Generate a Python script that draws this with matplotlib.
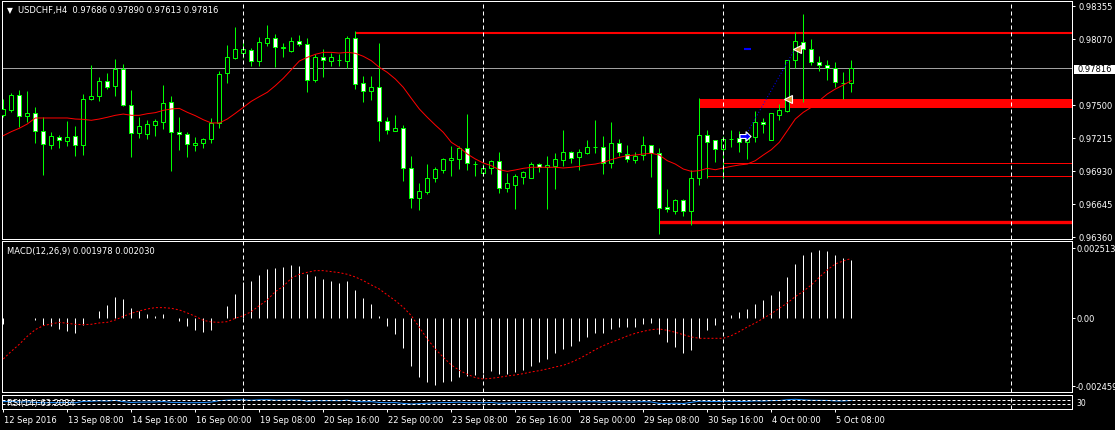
import matplotlib
matplotlib.use('Agg')
import matplotlib.pyplot as plt
from matplotlib.patches import Rectangle
from matplotlib.path import Path

plt.rcParams['font.family'] = ['DejaVu Sans']

# ---------------- data ----------------
opens = [
0.97416, 0.97459, 0.97586, 0.97407, 0.97427, 0.97272, 0.97156, 0.97220, 0.97191, 0.97231,
0.97156, 0.97548, 0.97574, 0.97704, 0.97666, 0.97810, 0.97496, 0.97254, 0.97251, 0.97329,
0.97355, 0.97522, 0.97263, 0.97246, 0.97156, 0.97168, 0.97202, 0.97344, 0.97773, 0.97905,
0.97946, 0.97977, 0.97882, 0.98038, 0.98075, 0.97989, 0.97969, 0.98049, 0.98023, 0.97712,
0.97911, 0.97882, 0.97886, 0.97882, 0.98075, 0.97686, 0.97623, 0.97652, 0.97364, 0.97277,
0.97298, 0.96958, 0.96693, 0.96750, 0.96871, 0.96940, 0.97027, 0.97035, 0.97125, 0.96990,
0.96915, 0.96952, 0.97012, 0.96785, 0.96811, 0.96880, 0.96871, 0.96987, 0.96961, 0.96975,
0.97027, 0.97090, 0.97053, 0.97087, 0.97133, 0.97133, 0.96995, 0.97168, 0.97079, 0.97027,
0.97064, 0.97151, 0.97082, 0.96615, 0.96586, 0.96675, 0.96580, 0.96866, 0.97237, 0.97194,
0.97122, 0.97202, 0.97211, 0.97177, 0.97220, 0.97349, 0.97200, 0.97416, 0.97450, 0.97885,
0.98041, 0.97980, 0.97868, 0.97842, 0.97816, 0.97690, 0.97686]
highs = [
0.97551, 0.97603, 0.97629, 0.97620, 0.97482, 0.97395, 0.97266, 0.97240, 0.97361, 0.97318,
0.97594, 0.97845, 0.97738, 0.97776, 0.97897, 0.97853, 0.97629, 0.97395, 0.97370, 0.97378,
0.97672, 0.97577, 0.97395, 0.97266, 0.97220, 0.97214, 0.97387, 0.97793, 0.98018, 0.98173,
0.98046, 0.97989, 0.98087, 0.98190, 0.98113, 0.98035, 0.98090, 0.98107, 0.98078, 0.97940,
0.97983, 0.97946, 0.97940, 0.98098, 0.98139, 0.97747, 0.97747, 0.98038, 0.97395, 0.97413,
0.97326, 0.97061, 0.96825, 0.96989, 0.96966, 0.97044, 0.97148, 0.97148, 0.97421, 0.97018,
0.96989, 0.97021, 0.97093, 0.96915, 0.96903, 0.96926, 0.97007, 0.96998, 0.97061, 0.97084,
0.97283, 0.97102, 0.97119, 0.97197, 0.97370, 0.97231, 0.97352, 0.97205, 0.97154, 0.97090,
0.97231, 0.97154, 0.97125, 0.96773, 0.96687, 0.96684, 0.96938, 0.97560, 0.97283, 0.97200,
0.97234, 0.97283, 0.97272, 0.97263, 0.97447, 0.97384, 0.97432, 0.97508, 0.97888, 0.98133,
0.98285, 0.98069, 0.97925, 0.97888, 0.97871, 0.97787, 0.97890]
lows = [
0.97393, 0.97442, 0.97306, 0.97349, 0.97171, 0.96897, 0.97122, 0.97130, 0.97145, 0.97061,
0.97070, 0.97545, 0.97531, 0.97637, 0.97580, 0.97493, 0.97053, 0.97217, 0.97208, 0.97234,
0.97292, 0.96932, 0.97113, 0.97053, 0.97105, 0.97130, 0.97171, 0.97300, 0.97692, 0.97897,
0.97902, 0.97839, 0.97839, 0.98009, 0.97827, 0.97914, 0.97954, 0.98006, 0.97614, 0.97695,
0.97744, 0.97839, 0.97839, 0.97819, 0.97637, 0.97522, 0.97545, 0.97191, 0.97251, 0.97275,
0.96843, 0.96612, 0.96595, 0.96730, 0.96837, 0.96912, 0.96889, 0.96946, 0.96940, 0.96889,
0.96889, 0.96903, 0.96739, 0.96750, 0.96601, 0.96817, 0.96868, 0.96923, 0.96601, 0.96773,
0.96975, 0.96998, 0.96940, 0.97076, 0.97084, 0.96903, 0.96955, 0.97061, 0.97010, 0.96998,
0.97024, 0.96880, 0.96388, 0.96572, 0.96554, 0.96543, 0.96465, 0.96808, 0.96868, 0.97010,
0.96868, 0.97139, 0.97093, 0.97033, 0.97182, 0.97257, 0.97198, 0.97372, 0.97442, 0.97819,
0.97528, 0.97845, 0.97796, 0.97718, 0.97658, 0.97551, 0.97613]
closes = [
0.97465, 0.97586, 0.97401, 0.97430, 0.97272, 0.97159, 0.97231, 0.97194, 0.97220, 0.97156,
0.97551, 0.97574, 0.97707, 0.97658, 0.97810, 0.97496, 0.97254, 0.97318, 0.97332, 0.97361,
0.97514, 0.97263, 0.97246, 0.97159, 0.97171, 0.97202, 0.97344, 0.97764, 0.97911, 0.97980,
0.97980, 0.97882, 0.98041, 0.98075, 0.97997, 0.97997, 0.98049, 0.98023, 0.97712, 0.97911,
0.97885, 0.97911, 0.97884, 0.98075, 0.97684, 0.97623, 0.97652, 0.97364, 0.97280, 0.97298,
0.96958, 0.96693, 0.96753, 0.96866, 0.96943, 0.97033, 0.97038, 0.97128, 0.96995, 0.96993,
0.96952, 0.97012, 0.96785, 0.96825, 0.96883, 0.96917, 0.96987, 0.96966, 0.96981, 0.97030,
0.97090, 0.97044, 0.97090, 0.97133, 0.97134, 0.96995, 0.97168, 0.97096, 0.97030, 0.97061,
0.97151, 0.97082, 0.96612, 0.96598, 0.96675, 0.96580, 0.96866, 0.97237, 0.97182, 0.97122,
0.97202, 0.97208, 0.97177, 0.97220, 0.97349, 0.97332, 0.97430, 0.97456, 0.97885, 0.98049,
0.97980, 0.97868, 0.97848, 0.97819, 0.97695, 0.97686, 0.97816]
ma = [
0.97234, 0.97269, 0.97298, 0.97335, 0.97387, 0.97387, 0.97387, 0.97387, 0.97387, 0.97378,
0.97375, 0.97367, 0.97378, 0.97393, 0.97410, 0.97421, 0.97410, 0.97410, 0.97424, 0.97433,
0.97453, 0.97465, 0.97470, 0.97436, 0.97407, 0.97372, 0.97344, 0.97344, 0.97378, 0.97427,
0.97479, 0.97531, 0.97571, 0.97609, 0.97666, 0.97730, 0.97804, 0.97879, 0.97911, 0.97937,
0.97954, 0.97954, 0.97948, 0.97954, 0.97946, 0.97920, 0.97882, 0.97825, 0.97781, 0.97724,
0.97652, 0.97557, 0.97465, 0.97393, 0.97326, 0.97263, 0.97177, 0.97133, 0.97076, 0.97033,
0.96998, 0.96975, 0.96940, 0.96926, 0.96938, 0.96952, 0.96961, 0.96961, 0.96961, 0.96961,
0.96955, 0.96961, 0.96969, 0.96981, 0.96989, 0.97004, 0.97027, 0.97047, 0.97061, 0.97067,
0.97076, 0.97082, 0.97067, 0.97018, 0.96989, 0.96946, 0.96926, 0.96932, 0.96952, 0.96940,
0.96955, 0.96969, 0.96981, 0.96989, 0.97018, 0.97067, 0.97113, 0.97177, 0.97277, 0.97378,
0.97436, 0.97479, 0.97537, 0.97594, 0.97637, 0.97672, 0.97709]
macd = [
-0.000193, 0.00001, 0.0, 0.00001, -0.000044, -0.000227, -0.000271, -0.000363, -0.000431, -0.000485,
-0.000227, 0.0, 0.000254, 0.000451, 0.000712, 0.000654, 0.000339, 0.000261, 0.000146, 0.000085,
0.000146, 0.000017, -0.000078, -0.000247, -0.000383, -0.000451, -0.000383, 0.000005, 0.000431, 0.000824,
0.00122, 0.00127, 0.001475, 0.001671, 0.001719, 0.001729, 0.001807, 0.001773, 0.001502, 0.001434,
0.001332, 0.001264, 0.001197, 0.001264, 0.000959, 0.000688, 0.000485, 0.000092, -0.000247, -0.000519,
-0.000993, -0.001603, -0.001976, -0.00217, -0.002248, -0.00217, -0.002112, -0.001976, -0.001942, -0.001909,
-0.001865, -0.001773, -0.001888, -0.001888, -0.001831, -0.001739, -0.001603, -0.001468, -0.00138, -0.001187,
-0.001027, -0.000925, -0.000756, -0.00062, -0.000492, -0.000492, -0.000363, -0.000295, -0.000305, -0.000281,
-0.00018, -0.000159, -0.000532, -0.000814, -0.000973, -0.001163, -0.001061, -0.000678, -0.000383, -0.000227,
-0.00002, 0.000112, 0.000214, 0.000315, 0.000485, 0.00062, 0.00079, 0.000922, 0.001397, 0.001841,
0.002146, 0.002237, 0.002315, 0.002278, 0.002153, 0.002034, 0.001978]
signal = [
-0.001379, -0.001119, -0.000881, -0.00061, -0.000384, -0.000249, -0.000192, -0.000136, -0.00017, -0.000203,
-0.000215, -0.000203, -0.000158, -0.000136, -0.000057, 0.000068, 0.00017, 0.000249, 0.000316, 0.000362,
0.000362, 0.000339, 0.000283, 0.000181, 0.000068, -0.000068, -0.000124, -0.000136, -0.000113, 0.0,
0.00009, 0.000226, 0.000429, 0.000622, 0.000904, 0.001085, 0.001356, 0.001492, 0.001559, 0.001616,
0.001616, 0.001582, 0.001548, 0.001492, 0.001401, 0.001277, 0.00113, 0.000994, 0.000791, 0.000599,
0.000373, 0.00009, -0.000305, -0.000701, -0.00104, -0.001322, -0.001582, -0.001763, -0.001898, -0.002011,
-0.002057, -0.002034, -0.002, -0.001955, -0.001921, -0.001876, -0.001819, -0.001774, -0.001718, -0.00165,
-0.001593, -0.001492, -0.001367, -0.00122, -0.001062, -0.000927, -0.000814, -0.000712, -0.000599, -0.000509,
-0.000441, -0.000384, -0.000362, -0.000407, -0.000475, -0.000554, -0.000633, -0.000678, -0.000678, -0.000678,
-0.000678, -0.000588, -0.000452, -0.000294, -0.000158, 0.0, 0.000158, 0.000339, 0.00052, 0.000735,
0.000915, 0.00113, 0.00139, 0.001639, 0.001842, 0.001944, 0.00203]
rsi = [
52, 55, 48, 50, 45, 40, 43, 42, 44, 41,
55, 56, 60, 58, 64, 52, 44, 47, 48, 49,
53, 45, 44, 41, 42, 43, 48, 62, 67, 70,
70, 66, 70, 71, 67, 67, 69, 68, 56, 62,
61, 62, 61, 66, 53, 51, 52, 44, 42, 43,
35, 29, 32, 37, 40, 43, 44, 47, 42, 42,
41, 44, 37, 39, 42, 43, 46, 45, 46, 48,
50, 48, 50, 51, 51, 46, 52, 50, 48, 49,
52, 49, 35, 34, 37, 34, 45, 57, 55, 53,
55, 55, 54, 55, 59, 58, 62, 63, 71, 75,
70, 66, 65, 64, 59, 59, 63.2]

date_labels = ['12 Sep 2016', '13 Sep 08:00', '14 Sep 16:00', '16 Sep 00:00', '19 Sep 08:00',
               '20 Sep 16:00', '22 Sep 00:00', '23 Sep 08:00', '26 Sep 16:00', '28 Sep 00:00',
               '29 Sep 08:00', '30 Sep 16:00', '4 Oct 00:00', '5 Oct 08:00']
date_bars = [0, 8, 16, 24, 32, 40, 48, 56, 64, 72, 80, 88, 96, 104]
separator_bars = [30, 60, 90, 126]
price_ticks = [0.98355, 0.98070, 0.97785, 0.97500, 0.97215, 0.96930, 0.96645, 0.96360]
bid = 0.97816
thick_levels = [(0.98124, 44.1, 1.5), (0.96486, 82.0, 2.4)]   # price, start bar, width(pt)
zone = (0.97473, 0.97551, 87.1)                              # low, high, start bar
thin_levels = [(0.96994, 90.0), (0.96883, 88.0)]
header = 'USDCHF,H4  0.97686 0.97890 0.97613 0.97816'
macd_title = 'MACD(12,26,9) 0.001978 0.002030'
rsi_title = 'RSI(14) 63.2084'

# ---------------- layout ----------------
W, H = 1115, 431
fig = plt.figure(figsize=(W / 100, H / 100), dpi=100, facecolor='black')
FS = 6.0
XL = (-0.125, 133.625)
PX = 0.72  # one pixel in points


def add_ax(x0, y0, x1, y1):
    ax = fig.add_axes([x0 / W, 1 - y1 / H, (x1 - x0) / W, (y1 - y0) / H])
    ax.set_facecolor('black')
    for s in ax.spines.values():
        s.set_color('white')
        s.set_linewidth(PX)
    ax.set_xlim(*XL)
    ax.set_xticks([])
    ax.yaxis.tick_right()
    ax.tick_params(axis='y', colors='white', length=3 * PX, width=PX, pad=2.2, labelsize=FS)
    return ax


def ftxt(xp, yp, s, **kw):
    kw.setdefault('color', 'white')
    kw.setdefault('fontsize', FS)
    kw.setdefault('va', 'center')
    kw.setdefault('ha', 'left')
    return fig.text(xp / W, 1 - yp / H, s, **kw)


ax = add_ax(2.3, 2.3, 1072.3, 240.0)
axm = add_ax(2.3, 242.3, 1072.3, 393.3)
axr = add_ax(2.3, 395.7, 1072.3, 410.0)

# ---------------- main price window ----------------
ax.set_ylim(0.98415 - 0.0000864 * 240.0, 0.98415 - 0.0000864 * 2.3)
n = len(closes)
xs = list(range(n))
ax.axhline(bid, color='#a0a0a0', lw=PX, zorder=1)
ax.vlines(xs, lows, highs, color='#00ff00', lw=PX, zorder=3)
for i in xs:
    o, c = opens[i], closes[i]
    bull = c >= o
    ax.bar(i, max(abs(c - o), 1e-7), bottom=min(o, c), width=0.5,
           facecolor='black' if bull else 'white', edgecolor='#00ff00',
           linewidth=PX, zorder=4)
ax.plot(xs, ma, color='#ff0000', lw=PX, zorder=5)

for p, b0, lw in thick_levels:
    ax.hlines(p, b0, XL[1], color='#ff0000', lw=lw, zorder=2)
ax.add_patch(Rectangle((zone[2], zone[0]), XL[1] - zone[2], zone[1] - zone[0],
                       facecolor='#ff0000', edgecolor='none', zorder=2))
for p, b0 in thin_levels:
    ax.hlines(p, b0, XL[1], color='#ff0000', lw=PX, zorder=2)

# trade markers
ax.plot([93.1, 98.95], [0.97275, 0.97983], color='#0000ff', lw=PX, ls=(0, (1, 2)), zorder=6)
ax.hlines(0.97980, 92.6, 93.5, color='#0000ff', lw=1.5, zorder=6)
arrow = Path([(-1, -0.35), (0.1, -0.35), (0.1, -0.85), (1, 0), (0.1, 0.85), (0.1, 0.35), (-1, 0.35), (-1, -0.35)])
ax.plot([92.7], [0.97231], marker=arrow, ms=8, mfc='#0000ff', mec='white', mew=0.8, zorder=7)
ax.plot([98.1, 99.2], [0.97551, 0.97983], ls='none', marker='<', ms=6, mfc='#d9a040',
        mec='white', mew=0.8, zorder=7)

ax.set_yticks([t for t in price_ticks if t != 0.97785])
ax.set_yticklabels(['%.5f' % t for t in price_ticks if t != 0.97785])

# current price box
fig.patches.append(Rectangle((1074 / W, 1 - 74.5 / H), 41 / W, 9 / H, transform=fig.transFigure,
                             facecolor='white', edgecolor='none', zorder=10))
ftxt(1077.5, 69.8, '%.5f' % bid, color='black', zorder=11)

# header
ftxt(6.5, 10.8, '\u25bc', fontsize=5.5)
ftxt(18, 10.6, header)

# ---------------- MACD window ----------------
axm.set_ylim((319.3 - 393.3) * 0.0000339, (319.3 - 242.3) * 0.0000339)
axm.vlines(xs, 0, macd, color='white', lw=PX, zorder=3)
axm.plot(xs, signal, color='#ff0000', lw=PX, ls=(0, (2, 2)), zorder=4)
axm.set_yticks([(319.3 - 249) * 0.0000339, 0.0, (319.3 - 387) * 0.0000339])
axm.set_yticklabels(['', '', ''])
ftxt(1076.5, 249.5, '0.002513')
ftxt(1076.5, 320.0, '0.00')
ftxt(1075.5, 387.5, '-0.002459')
ftxt(7, 252, macd_title)

# ---------------- RSI window ----------------
axr.set_ylim(-20, 120)
axr.plot(xs, rsi, color='#1e90ff', lw=PX, zorder=3)
for lvl in (30, 70):
    axr.axhline(lvl, color='white', lw=PX, ls=(0, (3, 2)), zorder=4)
axr.set_yticks([])
ftxt(7, 403.5, rsi_title, zorder=1)
ftxt(1076, 403.2, '30', fontsize=5.5)
axr.set_xticks(date_bars)
axr.tick_params(axis='x', colors='white', length=3 * PX, width=PX, labelbottom=False, direction='out')

for a in (ax, axm, axr):
    for b in separator_bars:
        a.axvline(b, color='white', lw=PX, ls=(0, (4, 3)), zorder=8)

for lab, b in zip(date_labels, date_bars):
    ftxt(3.3 + 8 * b + 0.5, 420.5, lab)

fig.savefig('out.png', dpi=100, facecolor='black')
